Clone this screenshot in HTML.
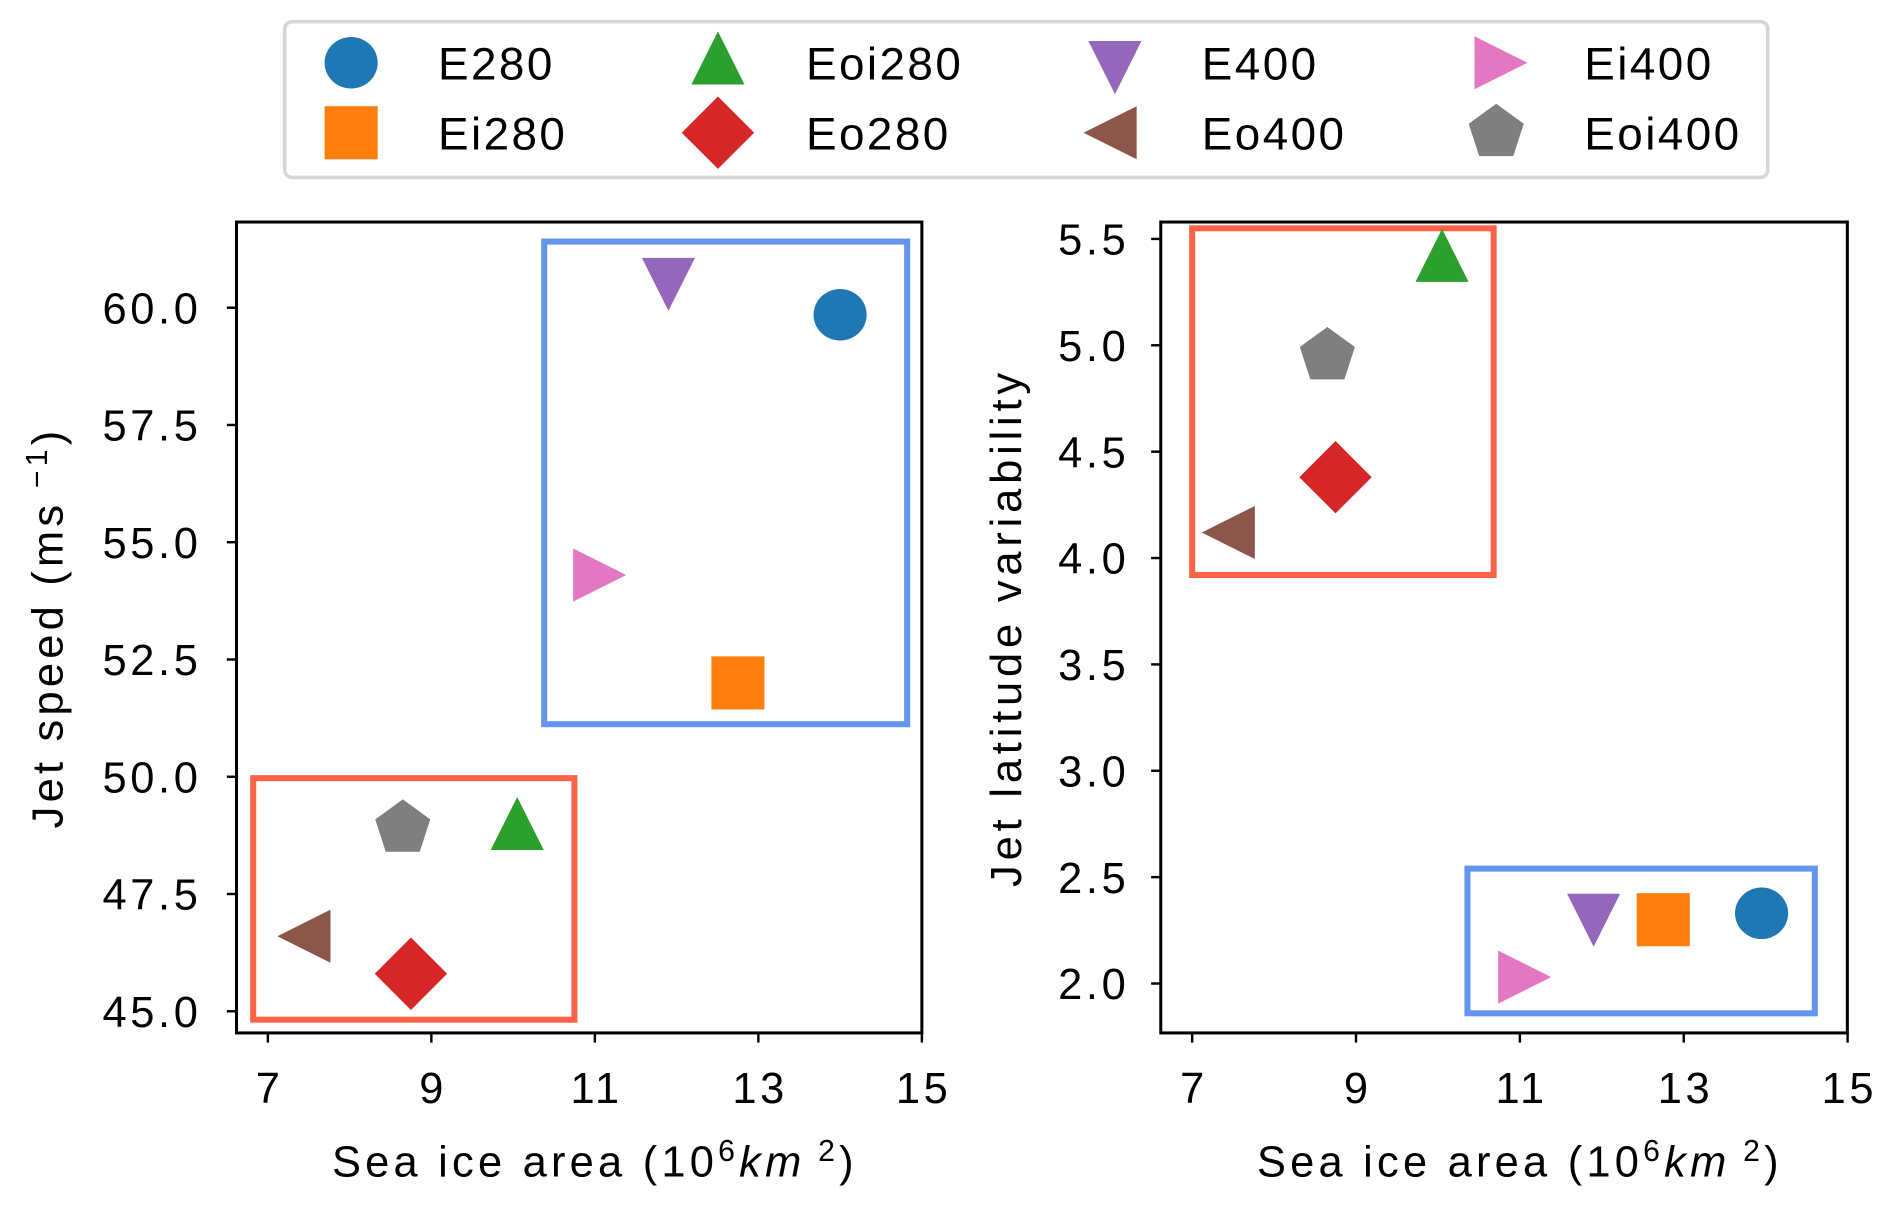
<!DOCTYPE html>
<html><head><meta charset="utf-8"><style>
html,body{margin:0;padding:0;background:#fff}
svg{display:block}
text{font-family:"Liberation Sans",sans-serif;fill:#000}
</style></head><body>
<svg id="fig" width="1892" height="1205" viewBox="0 0 1568 998.6" preserveAspectRatio="none" xmlns="http://www.w3.org/2000/svg">
<g id="legend"></g>
<g id="p1"></g>
<g id="p2"></g>
</svg>
<script>
const names = ["E280","Ei280","Eoi280","Eo280","E400","Eo400","Ei400","Eoi400"];
const colors = ["#1f77b4","#ff7f0e","#2ca02c","#d62728","#9467bd","#8c564b","#e377c2","#7f7f7f"];
const shapes = ["circle","square","triUp","diamond","triDown","triLeft","triRight","pentagon"];
const iceArea1 = [14.0,12.75,10.05,8.75,11.9,7.5,11.0,8.65];
const jetSpeed = [59.85,52.0,48.9,45.8,60.6,46.6,54.3,48.9];
const iceArea2 = [13.95,12.75,10.05,8.75,11.9,7.5,11.0,8.65];
const jetLatVar = [2.33,2.3,5.4,4.38,2.32,4.12,2.03,4.95];
const xTicks = [7,9,11,13,15];
const yTicks1 = [45.0,47.5,50.0,52.5,55.0,57.5,60.0];
const yTicks2 = [2.0,2.5,3.0,3.5,4.0,4.5,5.0,5.5];
const boxes1 = [[10.38,14.82,61.41,51.12,"#6495ed"],[6.82,10.75,49.97,44.82,"#ff6347"]];
const boxes2 = [[7.0,10.68,5.55,3.92,"#ff6347"],[10.36,14.6,2.54,1.86,"#6495ed"]];
const NS="http://www.w3.org/2000/svg";
function el(tag,attrs,parent){const e=document.createElementNS(NS,tag);for(const k in attrs)e.setAttribute(k,attrs[k]);parent.appendChild(e);return e;}
function marker(g,shape,cx,cy,color,name){
  let e;const s=22;
  if(shape==="circle") e=el("ellipse",{cx:cx,cy:cy,rx:s,ry:s*0.97,fill:color},g);
  else if(shape==="square") e=el("rect",{x:cx-s,y:cy-s,width:2*s,height:2*s,fill:color},g);
  else {
    let pts;
    if(shape==="triUp") pts=[[0,-26],[22,18],[-22,18]];
    else if(shape==="triDown") pts=[[0,26],[22,-18],[-22,-18]];
    else if(shape==="triLeft") pts=[[-26,0],[18,-22],[18,22]];
    else if(shape==="triRight") pts=[[26,0],[-18,-22],[-18,22]];
    else if(shape==="diamond") pts=[[0,-30],[30,0],[0,30],[-30,0]];
    else { pts=[];for(let i=0;i<5;i++){const a=-Math.PI/2+i*2*Math.PI/5;pts.push([24*Math.cos(a),24*Math.sin(a)]);} }
    e=el("polygon",{points:pts.map(p=>(cx+p[0])+","+(cy+p[1])).join(" "),fill:color},g);
  }
  
  
  return e;
}
function panel(g,ax,xs,ys,yTicks,yDec,boxes,ylabel,ylabelX,tickLabelX,ylSpacing){
  const X=v=>ax.x7+(v-7)*ax.kx, Y=v=>ax.yRef+(ax.vRef-v)*ax.ky;
  boxes.forEach(b=>{const r=el("rect",{x:X(b[0]),y:Y(b[2]),width:X(b[1])-X(b[0]),height:Y(b[3])-Y(b[2]),fill:"none",stroke:b[4],"stroke-width":5},g);
    
    });
  for(let i=0;i<names.length;i++) marker(g,shapes[i],X(xs[i]),Y(ys[i]),colors[i],"point-"+names[i].toLowerCase());
  const f=el("rect",{x:ax.l,y:ax.t,width:ax.r-ax.l,height:ax.b-ax.t,fill:"none",stroke:"#000","stroke-width":2.5},g);
  
  
  xTicks.forEach(v=>{el("line",{x1:X(v),x2:X(v),y1:ax.b,y2:ax.b+8,stroke:"#000","stroke-width":2},g);
    const t=el("text",{x:X(v)+1.5,y:ax.b+58,"text-anchor":"middle","font-size":36,"letter-spacing":3},g);t.textContent=v;
    
    });
  yTicks.forEach(v=>{el("line",{x1:ax.l-8,x2:ax.l,y1:Y(v),y2:Y(v),stroke:"#000","stroke-width":2},g);
    const t=el("text",{x:tickLabelX,y:Y(v)+13,"text-anchor":"end","font-size":36,"letter-spacing":3},g);t.textContent=v.toFixed(yDec);
    
    });
  const xl=el("text",{x:(X(7)+X(15))/2,y:ax.b+119,"text-anchor":"middle","font-size":36,"letter-spacing":3.5},g);
  xl.innerHTML='Sea ice area (10<tspan dy="-13" font-size="25">6</tspan><tspan dy="13" font-style="italic">km</tspan><tspan dy="-13" font-size="25"> 2</tspan><tspan dy="13">)</tspan>';
  
  
  const cy=(ax.t+ax.b)/2;
  const yl=el("text",{x:ylabelX,y:cy,"text-anchor":"middle","font-size":36,"letter-spacing":ylSpacing,transform:"rotate(-90 "+ylabelX+" "+cy+")"},g);
  yl.innerHTML=ylabel;
  
  
}
const p1=document.getElementById("p1"), p2=document.getElementById("p2");
panel(p1,{l:196,r:764,t:184,b:856,x7:222,kx:67.75,yRef:255,vRef:60,ky:38.87},iceArea1,jetSpeed,yTicks1,1,boxes1,
  'Jet speed (ms<tspan dy="-13" font-size="25"> −1</tspan><tspan dy="13">)</tspan>',52,167,3.5);
panel(p2,{l:962,r:1531,t:184,b:856,x7:988,kx:67.9,yRef:198,vRef:5.5,ky:176.3},iceArea2,jetLatVar,yTicks2,1,boxes2,
  'Jet  latitude  variability',846,936,4);
const lg=document.getElementById("legend");
const lb=el("rect",{x:236,y:18,width:1229,height:129,rx:6,fill:"#fff",stroke:"#d6d6d6","stroke-width":3},lg);


const order=[[0,0,0],[1,0,1],[2,1,0],[3,1,1],[4,2,0],[5,2,1],[6,3,0],[7,3,1]];
const mx=[291,595,924,1240], tx=[363,668,996,1313], ry=[52,110];
order.forEach(o=>{const i=o[0];
  marker(lg,shapes[i],mx[o[1]],ry[o[2]],colors[i],"legend-marker-"+names[i].toLowerCase());
  const t=el("text",{x:tx[o[1]],y:ry[o[2]]+14,"font-size":38,"letter-spacing":2},lg);t.textContent=names[i];
  
  });
</script>
</body></html>
